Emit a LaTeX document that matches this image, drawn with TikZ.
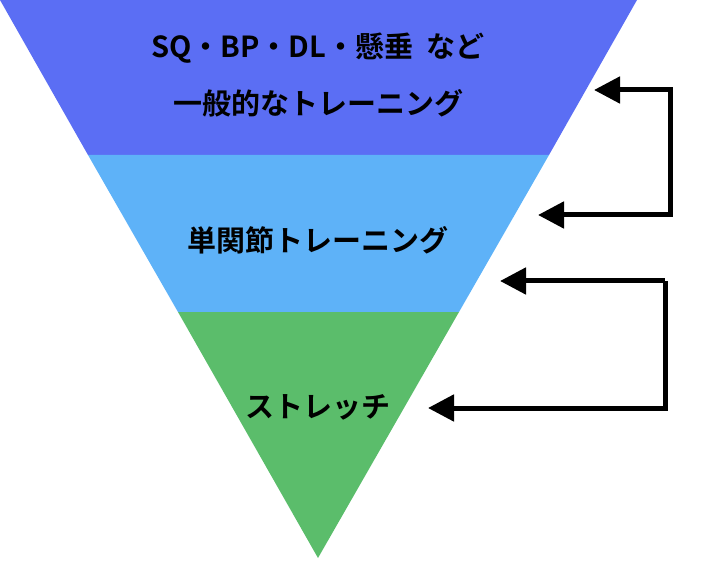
\documentclass[tikz,border=0pt]{standalone}
\usepackage{fontspec}
\newfontfamily\jp{Noto Sans CJK JP}[BoldFont={* Bold}]
\usetikzlibrary{arrows.meta}
\definecolor{topc}{HTML}{5B6EF4}
\definecolor{midc}{HTML}{5EB2F8}
\definecolor{botc}{HTML}{5BBD6B}
\tikzset{lbl/.style={font=\jp\bfseries\fontsize{29}{34}\selectfont, text=black, align=center},
 conn/.style={line width=5pt, -{Triangle[length=26pt,width=26pt]}}}
\begin{document}
\begin{tikzpicture}[x=1pt,y=-1pt]
\useasboundingbox (0,0) rectangle (720,561);
\fill[topc] (0,0) -- (637,0) -- (549,155) -- (88,155) -- cycle;
\fill[midc] (88,155) -- (549,155) -- (459,312) -- (178,312) -- cycle;
\fill[botc] (178,312) -- (459,312) -- (318,558) -- cycle;
\node[lbl] (t1) at (318,48) {SQ・BP・DL・懸垂\ \ など};
\node[lbl] (t2) at (318,103) {一般的なトレーニング};
\node[lbl] (t3) at (318,240) {単関節トレーニング};
\node[lbl] (t4) at (318,407) {ストレッチ};
\coordinate (a1) at (594,90);
\coordinate (a2) at (538,215);
\coordinate (b1) at (500,281);
\coordinate (b2) at (428,408);
\draw[conn] (a2) ++(30,0) -- (670,215) -- (670,90) -- (a1);
\draw[conn] (670,215) -- (a2);
\draw[conn] (665,281) -- (b1);
\draw[conn] (665,281) -- (665,408) -- (b2);
\end{tikzpicture}
\end{document}
